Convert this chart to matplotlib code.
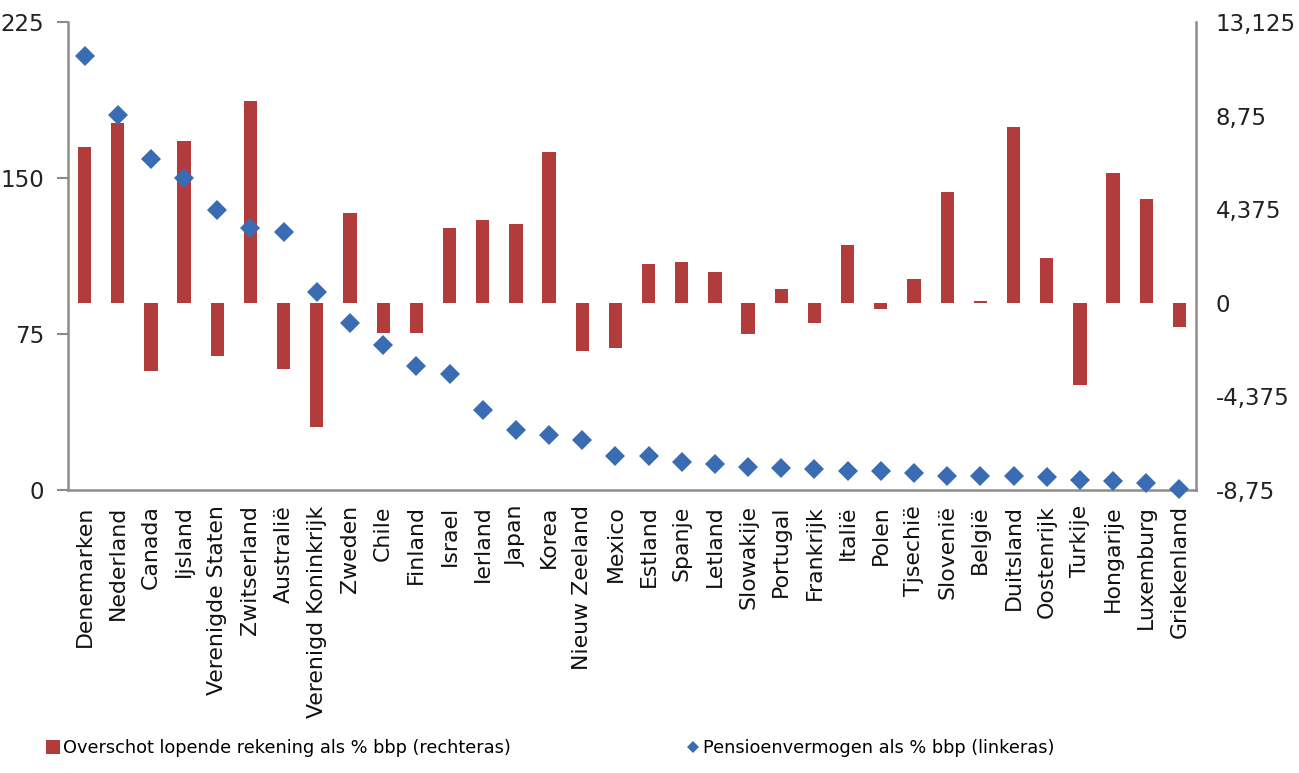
import matplotlib
matplotlib.use("Agg")
import matplotlib.pyplot as plt
from matplotlib.lines import Line2D
from matplotlib.ticker import FixedLocator, FixedFormatter

countries = ["Denemarken", "Nederland", "Canada", "Ijsland", "Verenigde Staten",
             "Zwitserland", "Australië", "Verenigd Koninkrijk", "Zweden", "Chile",
             "Finland", "Israel", "Ierland", "Japan", "Korea", "Nieuw Zeeland",
             "Mexico", "Estland", "Spanje", "Letland", "Slowakije", "Portugal",
             "Frankrijk", "Italië", "Polen", "Tjsechië", "Slovenië", "België",
             "Duitsland", "Oostenrijk", "Turkije", "Hongarije", "Luxemburg",
             "Griekenland"]

# Overschot lopende rekening als % bbp (rechteras)
current_account = [7.30, 8.42, -3.19, 7.58, -2.47, 9.45, -3.10, -5.79, 4.19, -1.39,
                   -1.39, 3.48, 3.87, 3.69, 7.04, -2.26, -2.09, 1.83, 1.89, 1.46,
                   -1.47, 0.66, -0.93, 2.70, -0.31, 1.12, 5.18, 0.10, 8.21, 2.11,
                   -3.84, 6.09, 4.86, -1.12]

# Pensioenvermogen als % bbp (linkeras)
pension_assets = [208.8, 180.2, 159.2, 150.2, 134.5, 126.0, 123.8, 95.1, 80.5, 69.6,
                  59.6, 55.6, 38.5, 28.9, 26.5, 24.0, 16.4, 16.4, 13.6, 12.5,
                  11.2, 10.4, 9.9, 9.3, 9.3, 8.0, 6.7, 6.7, 6.7, 6.1,
                  4.8, 4.3, 3.2, 0.5]

left_ticks = [0, 75, 150, 225]
left_ticklabels = ["0", "75", "150", "225"]
right_ticks = [-8.75, -4.375, 0, 4.375, 8.75, 13.125]
right_ticklabels = ["-8,75", "-4,375", "0", "4,375", "8,75", "13,125"]

label_bar = "Overschot lopende rekening als % bbp (rechteras)"
label_dot = "Pensioenvermogen als % bbp (linkeras)"

RED = "#B23B3B"
BLUE = "#3A6CB4"
GRAY = "#8C8C8C"

W, H = 1299, 773
fig = plt.figure(figsize=(W / 100, H / 100), dpi=100)
ax = fig.add_axes([68 / W, 1 - 490 / H, (1196 - 68) / W, (490 - 22) / H])
ax2 = ax.twinx()

x = list(range(len(countries)))

# bars on the right axis
ax2.bar(x, current_account, width=0.4, color=RED, zorder=2)
ax2.set_ylim(-8.75, 13.125)
# diamonds on the left axis (drawn on top)
ax.set_zorder(ax2.get_zorder() + 1)
ax.patch.set_visible(False)
ax.plot(x, pension_assets, linestyle="none", marker="D", markersize=10,
        color=BLUE, markeredgewidth=0, zorder=3, clip_on=False)
ax.set_ylim(0, 225)
ax.set_xlim(-0.5, len(countries) - 0.5)

# left axis
ax.yaxis.set_major_locator(FixedLocator(left_ticks))
ax.yaxis.set_major_formatter(FixedFormatter(left_ticklabels))
ax.tick_params(axis="y", direction="out", length=8, width=1.5, color=GRAY,
               labelsize=16.5, pad=9, labelcolor="#222222")
# right axis
ax2.yaxis.set_major_locator(FixedLocator(right_ticks))
ax2.yaxis.set_major_formatter(FixedFormatter(right_ticklabels))
ax2.tick_params(axis="y", length=0, labelsize=16.5, pad=14, labelcolor="#222222")

# x axis
ax.set_xticks(x)
ax.set_xticklabels(countries, rotation=90, fontsize=15.8, color="#111111")
ax.tick_params(axis="x", length=0, pad=11)

for a in (ax, ax2):
    a.spines["top"].set_visible(False)
    for s in ("left", "right", "bottom"):
        a.spines[s].set_color(GRAY)
        a.spines[s].set_linewidth(1.8)
ax.spines["right"].set_visible(False)
ax2.spines["left"].set_visible(False)
ax2.spines["bottom"].set_visible(False)

h_bar = Line2D([], [], linestyle="none", marker="s", markersize=10, color=RED,
               markeredgewidth=0)
h_dot = Line2D([], [], linestyle="none", marker="D", markersize=6, color=BLUE,
               markeredgewidth=0)
ycen = 1 - 748 / H
fig.legend([h_bar], [label_bar], loc="center left",
           bbox_to_anchor=(46 / W, ycen), frameon=False, fontsize=12.8,
           handlelength=0.8, handletextpad=0.15, borderpad=0, borderaxespad=0)
fig.legend([h_dot], [label_dot], loc="center left",
           bbox_to_anchor=(686 / W, ycen), frameon=False, fontsize=12.8,
           handlelength=0.8, handletextpad=0.15, borderpad=0, borderaxespad=0)

fig.savefig("out.png", dpi=100)
